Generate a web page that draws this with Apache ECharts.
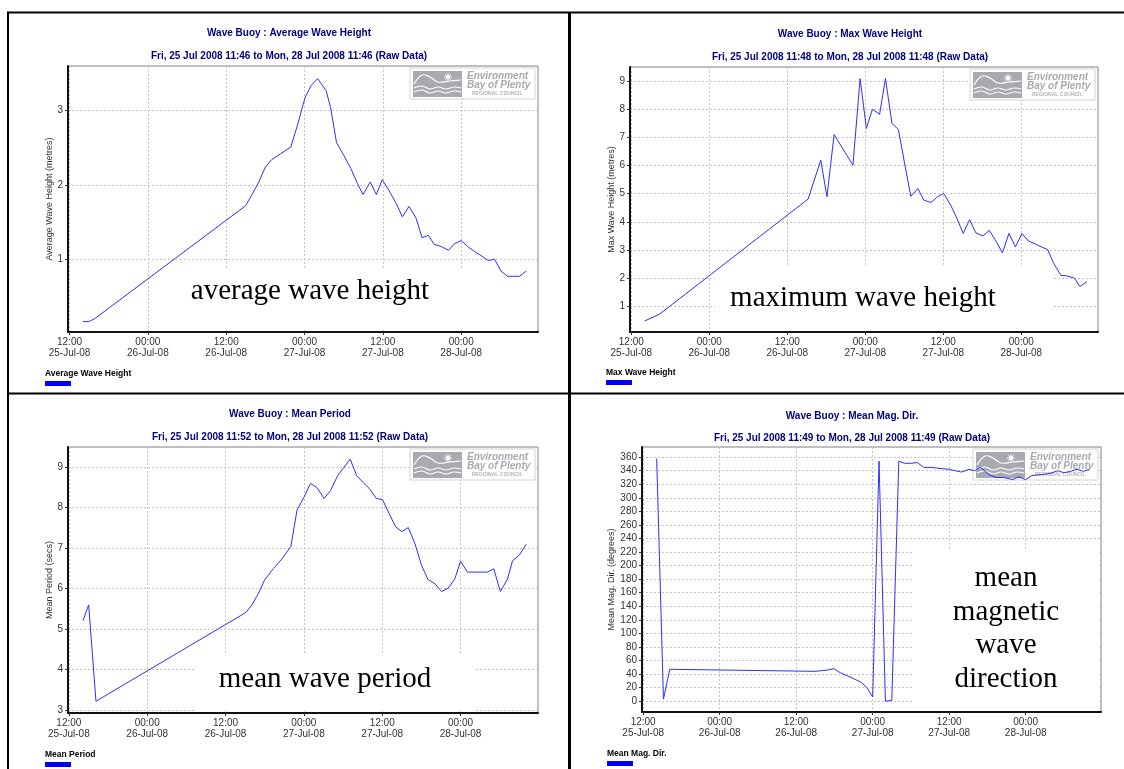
<!DOCTYPE html>
<html>
<head>
<meta charset="utf-8">
<title>Wave Buoy</title>
<script src="https://cdn.jsdelivr.net/npm/echarts@6.0.0/dist/echarts.min.js"></script>
<style>
html, body { margin: 0; padding: 0; background: #fff; }
#chart { width: 1124px; height: 769px; }
</style>
</head>
<body>
<div id="chart"></div>
<script>
// tick positions on the time axis (same for all four charts)
var xTicks = ['2008-07-25 12:00', '2008-07-26 00:00', '2008-07-26 12:00', '2008-07-27 00:00', '2008-07-27 12:00', '2008-07-28 00:00'];

// average wave height (metres)
var avgTimes = ['2008-07-25 14:03', '2008-07-25 14:56', '2008-07-25 15:52', '2008-07-26 14:59', '2008-07-26 15:54', '2008-07-26 17:00', '2008-07-26 18:00', '2008-07-26 18:58', '2008-07-26 20:21', '2008-07-26 21:54', '2008-07-26 22:50', '2008-07-27 00:06', '2008-07-27 01:03', '2008-07-27 02:00', '2008-07-27 03:18', '2008-07-27 04:00', '2008-07-27 04:54', '2008-07-27 06:00', '2008-07-27 07:06', '2008-07-27 08:06', '2008-07-27 08:58', '2008-07-27 10:04', '2008-07-27 11:00', '2008-07-27 11:54', '2008-07-27 12:54', '2008-07-27 14:03', '2008-07-27 15:00', '2008-07-27 16:00', '2008-07-27 17:06', '2008-07-27 18:00', '2008-07-27 19:00', '2008-07-27 19:51', '2008-07-27 20:57', '2008-07-27 22:04', '2008-07-27 23:00', '2008-07-28 00:00', '2008-07-28 01:00', '2008-07-28 02:06', '2008-07-28 03:12', '2008-07-28 04:09', '2008-07-28 05:06', '2008-07-28 06:06', '2008-07-28 07:06', '2008-07-28 08:00', '2008-07-28 08:58', '2008-07-28 09:57'];
var avgValues = [0.16, 0.16, 0.20, 1.72, 1.86, 2.04, 2.24, 2.34, 2.42, 2.51, 2.78, 3.18, 3.34, 3.43, 3.27, 3.04, 2.57, 2.40, 2.22, 2.02, 1.87, 2.04, 1.87, 2.07, 1.93, 1.75, 1.57, 1.71, 1.55, 1.29, 1.32, 1.20, 1.17, 1.12, 1.21, 1.25, 1.17, 1.10, 1.04, 0.98, 1.00, 0.84, 0.77, 0.77, 0.77, 0.84];
var avgTicks = [1, 2, 3];

// max wave height (metres)
var maxTimes = ['2008-07-25 14:02', '2008-07-25 16:20', '2008-07-26 15:12', '2008-07-26 17:09', '2008-07-26 18:06', '2008-07-26 19:12', '2008-07-26 22:06', '2008-07-26 23:12', '2008-07-27 00:10', '2008-07-27 01:06', '2008-07-27 02:12', '2008-07-27 03:06', '2008-07-27 04:06', '2008-07-27 05:06', '2008-07-27 06:00', '2008-07-27 07:00', '2008-07-27 08:06', '2008-07-27 09:00', '2008-07-27 10:06', '2008-07-27 11:06', '2008-07-27 12:03', '2008-07-27 13:09', '2008-07-27 14:06', '2008-07-27 15:04', '2008-07-27 16:03', '2008-07-27 17:00', '2008-07-27 18:06', '2008-07-27 19:04', '2008-07-27 20:06', '2008-07-27 21:06', '2008-07-27 22:06', '2008-07-27 23:06', '2008-07-28 00:06', '2008-07-28 01:06', '2008-07-28 02:12', '2008-07-28 03:06', '2008-07-28 04:03', '2008-07-28 05:00', '2008-07-28 06:06', '2008-07-28 07:06', '2008-07-28 08:12', '2008-07-28 09:00', '2008-07-28 10:06'];
var maxValues = [0.48, 0.72, 4.81, 6.19, 4.89, 7.1, 6.01, 9.09, 7.32, 8.0, 7.82, 9.09, 7.5, 7.28, 6.13, 4.91, 5.18, 4.77, 4.69, 4.89, 5.01, 4.59, 4.12, 3.59, 4.08, 3.61, 3.5, 3.70, 3.32, 2.9, 3.59, 3.11, 3.59, 3.32, 3.21, 3.11, 3.02, 2.52, 2.1, 2.08, 2.0, 1.71, 1.87];
var maxTicks = [1, 2, 3, 4, 5, 6, 7, 8, 9];

// mean period (secs)
var periodTimes = ['2008-07-25 14:10', '2008-07-25 15:02', '2008-07-25 16:09', '2008-07-26 15:06', '2008-07-26 16:02', '2008-07-26 17:00', '2008-07-26 18:00', '2008-07-26 19:21', '2008-07-26 20:42', '2008-07-26 22:00', '2008-07-26 22:57', '2008-07-27 00:03', '2008-07-27 01:00', '2008-07-27 02:00', '2008-07-27 03:06', '2008-07-27 04:06', '2008-07-27 05:12', '2008-07-27 06:06', '2008-07-27 07:06', '2008-07-27 08:04', '2008-07-27 09:12', '2008-07-27 10:00', '2008-07-27 11:06', '2008-07-27 12:03', '2008-07-27 13:03', '2008-07-27 14:03', '2008-07-27 15:00', '2008-07-27 16:00', '2008-07-27 17:00', '2008-07-27 18:00', '2008-07-27 19:00', '2008-07-27 20:06', '2008-07-27 21:06', '2008-07-27 22:04', '2008-07-27 23:06', '2008-07-28 00:00', '2008-07-28 01:03', '2008-07-28 02:06', '2008-07-28 03:09', '2008-07-28 04:06', '2008-07-28 05:06', '2008-07-28 06:06', '2008-07-28 07:12', '2008-07-28 07:58', '2008-07-28 09:00', '2008-07-28 10:04'];
var periodValues = [5.2, 5.59, 3.21, 5.4, 5.59, 5.86, 6.21, 6.49, 6.74, 7.03, 7.93, 8.26, 8.59, 8.49, 8.22, 8.42, 8.79, 8.98, 9.19, 8.79, 8.59, 8.47, 8.22, 8.19, 7.85, 7.52, 7.40, 7.50, 7.11, 6.58, 6.22, 6.11, 5.92, 6.0, 6.22, 6.67, 6.4, 6.4, 6.4, 6.4, 6.48, 5.92, 6.23, 6.68, 6.82, 7.09];
var periodTicks = [3, 4, 5, 6, 7, 8, 9];

// mean magnetic direction (degrees)
var dirTimes = ['2008-07-25 14:07', '2008-07-25 15:11', '2008-07-25 16:10', '2008-07-26 15:00', '2008-07-26 16:00', '2008-07-26 17:00', '2008-07-26 17:54', '2008-07-26 18:54', '2008-07-26 20:36', '2008-07-26 22:09', '2008-07-26 23:06', '2008-07-27 00:00', '2008-07-27 01:00', '2008-07-27 02:00', '2008-07-27 03:00', '2008-07-27 04:06', '2008-07-27 05:00', '2008-07-27 06:00', '2008-07-27 07:00', '2008-07-27 08:00', '2008-07-27 09:00', '2008-07-27 10:00', '2008-07-27 11:00', '2008-07-27 12:00', '2008-07-27 13:54', '2008-07-27 15:06', '2008-07-27 16:00', '2008-07-27 16:54', '2008-07-27 18:18', '2008-07-27 19:24', '2008-07-27 20:30', '2008-07-27 22:00', '2008-07-27 22:54', '2008-07-28 00:00', '2008-07-28 01:00', '2008-07-28 02:12', '2008-07-28 03:48', '2008-07-28 05:04', '2008-07-28 06:00', '2008-07-28 07:00', '2008-07-28 08:05', '2008-07-28 09:06', '2008-07-28 09:54'];
var dirValues = [358, 3, 47, 44, 45, 46, 48, 42, 35, 28, 20, 6, 354, 0, 1, 354, 351, 351, 352, 345, 345, 344, 343, 342, 338, 342, 340, 345, 334, 330, 330, 327, 331, 327, 333, 334, 336, 340, 337, 339, 342, 339, 342];
var dirTicks = [0, 20, 40, 60, 80, 100, 120, 140, 160, 180, 200, 220, 240, 260, 280, 300, 320, 340, 360];

var MONTHS = ['Jan', 'Feb', 'Mar', 'Apr', 'May', 'Jun', 'Jul', 'Aug', 'Sep', 'Oct', 'Nov', 'Dec'];
var FONT = '"Liberation Sans", Arial, sans-serif';
var SERIF = '"Liberation Serif", "Times New Roman", serif';

// 'YYYY-MM-DD HH:mm' -> local timestamp
function toMs(s) {
    var p = s.split(/[- :]/);
    return new Date(+p[0], p[1] - 1, +p[2], +p[3], +p[4]).getTime();
}
function pad(n) { return (n < 10 ? '0' : '') + n; }
function fmtTime(v) {
    var d = new Date(v);
    return pad(d.getHours()) + ':' + pad(d.getMinutes()) + '\n' +
        pad(d.getDate()) + '-' + MONTHS[d.getMonth()] + '-' + String(d.getFullYear()).slice(2);
}

var panels = [{
    title: 'Wave Buoy : Average Wave Height',
    sub: 'Fri, 25 Jul 2008 11:46 to Mon, 28 Jul 2008 11:46 (Raw Data)',
    legend: 'Average Wave Height',
    yName: 'Average Wave Height (metres)',
    times: avgTimes, values: avgValues, ticks: avgTicks,
    xMin: '2008-07-25 11:46', xMax: '2008-07-28 11:46', yMin: 0.02, yMax: 3.6,
    grid: { left: 68, top: 66, width: 470, height: 266 },
    cx: 289, titleY: 33, subY: 56, nameGap: 13, legX: 45, legY: 374,
    note: 'average wave height', noteX: 310, noteY: 291,
    box: [160, 268, 305, 60]
}, {
    title: 'Wave Buoy : Max Wave Height',
    sub: 'Fri, 25 Jul 2008 11:48 to Mon, 28 Jul 2008 11:48 (Raw Data)',
    legend: 'Max Wave Height',
    yName: 'Max Wave Height (metres)',
    times: maxTimes, values: maxValues, ticks: maxTicks,
    xMin: '2008-07-25 11:48', xMax: '2008-07-28 11:48', yMin: 0.09, yMax: 9.5,
    grid: { left: 630, top: 67, width: 468, height: 265 },
    cx: 850, titleY: 34, subY: 57, nameGap: 14, legX: 606, legY: 373,
    note: 'maximum wave height', noteX: 863, noteY: 298,
    box: [715, 267, 337, 63]
}, {
    title: 'Wave Buoy : Mean Period',
    sub: 'Fri, 25 Jul 2008 11:52 to Mon, 28 Jul 2008 11:52 (Raw Data)',
    legend: 'Mean Period',
    yName: 'Mean Period (secs)',
    times: periodTimes, values: periodValues, ticks: periodTicks,
    xMin: '2008-07-25 11:52', xMax: '2008-07-28 11:52', yMin: 2.92, yMax: 9.49,
    grid: { left: 68, top: 447, width: 470, height: 266 },
    cx: 290, titleY: 414, subY: 437, nameGap: 13, legX: 45, legY: 755,
    note: 'mean wave period', noteX: 325, noteY: 679,
    box: [196, 653, 278, 58]
}, {
    title: 'Wave Buoy : Mean Mag. Dir.',
    sub: 'Fri, 25 Jul 2008 11:49 to Mon, 28 Jul 2008 11:49 (Raw Data)',
    legend: 'Mean Mag. Dir.',
    yName: 'Mean Mag. Dir. (degrees)',
    times: dirTimes, values: dirValues, ticks: dirTicks,
    xMin: '2008-07-25 11:49', xMax: '2008-07-28 11:49', yMin: -16, yMax: 375,
    grid: { left: 642, top: 447, width: 459, height: 265 },
    cx: 852, titleY: 416, subY: 438, nameGap: 25, legX: 607, legY: 754,
    note: 'mean\nmagnetic\nwave\ndirection', noteX: 1006, noteY: 629,
    box: [913, 550, 186, 160]
}];

// grey "Environment Bay of Plenty" badge in the plot corner
function logo(x, y) {
    var rays = [];
    for (var a = 0; a < 4; a++) {
        var ang = a * Math.PI / 4;
        rays.push({
            type: 'line', z: 1,
            shape: { x1: 38 - 4 * Math.cos(ang), y1: 9 - 4 * Math.sin(ang), x2: 38 + 4 * Math.cos(ang), y2: 9 + 4 * Math.sin(ang) },
            style: { stroke: '#fff', lineWidth: 1 }
        });
    }
    return {
        type: 'group', x: x, y: y,
        children: [
            { type: 'rect', z: 1, shape: { x: 0, y: 0, width: 125, height: 31 }, style: { fill: '#fff', stroke: '#d4d4d4', lineWidth: 1 } },
            { type: 'rect', z: 1, shape: { x: 3, y: 3, width: 49, height: 26 }, style: { fill: '#a9a9b1' } },
            { type: 'polyline', z: 1, shape: { points: [[4, 16], [12, 7], [20, 9], [28, 14], [40, 13], [51, 12]], smooth: 0.4 }, style: { stroke: '#fff', fill: null, lineWidth: 1.2 } },
            { type: 'polyline', z: 1, shape: { points: [[4, 20], [12, 18], [20, 21], [28, 19], [36, 21], [44, 19], [51, 20]], smooth: 0.4 }, style: { stroke: '#fff', fill: null, lineWidth: 1.2 } },
            { type: 'polyline', z: 1, shape: { points: [[4, 24], [12, 22], [20, 25], [28, 23], [36, 25], [44, 23], [51, 24]], smooth: 0.4 }, style: { stroke: '#fff', fill: null, lineWidth: 1.2 } },
            { type: 'circle', z: 1, shape: { cx: 38, cy: 9, r: 2 }, style: { fill: '#fff' } }
        ].concat(rays).concat([
            { type: 'text', z: 1, style: { text: 'Environment', x: 57, y: 8, textVerticalAlign: 'middle', font: 'italic bold 10px ' + FONT, fill: '#a8a8b0' } },
            { type: 'text', z: 1, style: { text: 'Bay of Plenty', x: 57, y: 17, textVerticalAlign: 'middle', font: 'italic bold 10px ' + FONT, fill: '#a8a8b0' } },
            { type: 'text', z: 1, style: { text: 'REGIONAL COUNCIL', x: 62, y: 26, textVerticalAlign: 'middle', font: 'bold 5px ' + FONT, fill: '#b4b4b4' } }
        ])
    };
}

var dom = echarts.init(document.getElementById('chart'));
var option = {
    animation: false,
    backgroundColor: '#fff',
    grid: [], xAxis: [], yAxis: [], series: [],
    graphic: { elements: [] }
};
var g = option.graphic.elements;

// black frame lines splitting the four charts
g.push({ type: 'line', shape: { x1: 7, y1: 12.5, x2: 1124, y2: 12.5 }, style: { stroke: '#000', lineWidth: 2 } });
g.push({ type: 'line', shape: { x1: 8, y1: 12, x2: 8, y2: 769 }, style: { stroke: '#000', lineWidth: 2 } });
g.push({ type: 'line', shape: { x1: 569.5, y1: 12, x2: 569.5, y2: 769 }, style: { stroke: '#000', lineWidth: 3 } });
g.push({ type: 'line', shape: { x1: 7, y1: 393.5, x2: 1124, y2: 393.5 }, style: { stroke: '#000', lineWidth: 2 } });

panels.forEach(function (p, i) {
    option.grid.push({
        left: p.grid.left, top: p.grid.top, width: p.grid.width, height: p.grid.height,
        show: true, borderColor: '#808080', borderWidth: 1, backgroundColor: 'transparent'
    });
    // time runs on a value axis in ms so the 12-hourly ticks can be placed exactly
    option.xAxis.push({
        type: 'value', gridIndex: i,
        min: toMs(p.xMin), max: toMs(p.xMax),
        axisLine: { onZero: false, lineStyle: { color: '#111', width: 2 } },
        axisTick: { show: true, length: 3, lineStyle: { color: '#333' }, customValues: xTicks.map(toMs) },
        axisLabel: {
            customValues: xTicks.map(toMs),
            formatter: fmtTime,
            color: '#333', fontSize: 10, lineHeight: 11, fontFamily: FONT, margin: 5
        },
        splitLine: { show: true, lineStyle: { color: '#c4c4c4', type: [2, 2], width: 1 } }
    });
    option.yAxis.push({
        type: 'value', gridIndex: i,
        min: p.yMin, max: p.yMax,
        name: p.yName, nameLocation: 'middle', nameGap: p.nameGap, nameRotate: 90,
        nameTextStyle: { color: '#333', fontSize: 9, fontFamily: FONT },
        axisLine: { show: true, onZero: false, lineStyle: { color: '#111', width: 2 } },
        axisTick: { show: true, length: 3, lineStyle: { color: '#333' }, customValues: p.ticks },
        axisLabel: { customValues: p.ticks, color: '#333', fontSize: 10, fontFamily: FONT, margin: 5 },
        splitLine: { show: true, lineStyle: { color: '#c4c4c4', type: [2, 2], width: 1 } }
    });
    option.series.push({
        type: 'line', name: p.legend, xAxisIndex: i, yAxisIndex: i,
        data: p.times.map(function (t, k) { return [toMs(t), p.values[k]]; }),
        showSymbol: false, symbol: 'none', z: 3,
        lineStyle: { color: '#2e2eff', width: 1 }
    });

    // titles
    g.push({ type: 'text', style: { text: p.title, x: p.cx, y: p.titleY, textAlign: 'center', textVerticalAlign: 'middle', font: 'bold 10px ' + FONT, fill: '#000080' } });
    g.push({ type: 'text', style: { text: p.sub, x: p.cx, y: p.subY, textAlign: 'center', textVerticalAlign: 'middle', font: 'bold 10px ' + FONT, fill: '#000080' } });
    // legend: name above a blue bar
    g.push({ type: 'text', style: { text: p.legend, x: p.legX, y: p.legY, textVerticalAlign: 'middle', font: 'bold 8.5px ' + FONT, fill: '#000' } });
    g.push({ type: 'rect', shape: { x: p.legX, y: p.legY + 7, width: 26, height: 5 }, style: { fill: '#0000ff' } });
    // logo + overlaid caption
    g.push(logo(p.grid.left + p.grid.width - 128, p.grid.top + 2));
    g.push({ type: 'rect', z: 1, shape: { x: p.box[0], y: p.box[1], width: p.box[2], height: p.box[3] }, style: { fill: '#fff' } });
    g.push({ type: 'text', z: 4, style: { text: p.note, x: p.noteX, y: p.noteY, textAlign: 'center', textVerticalAlign: 'middle', font: '29px ' + SERIF, lineHeight: 33.5, fill: '#000' } });
});

dom.setOption(option);
</script>
</body>
</html>
